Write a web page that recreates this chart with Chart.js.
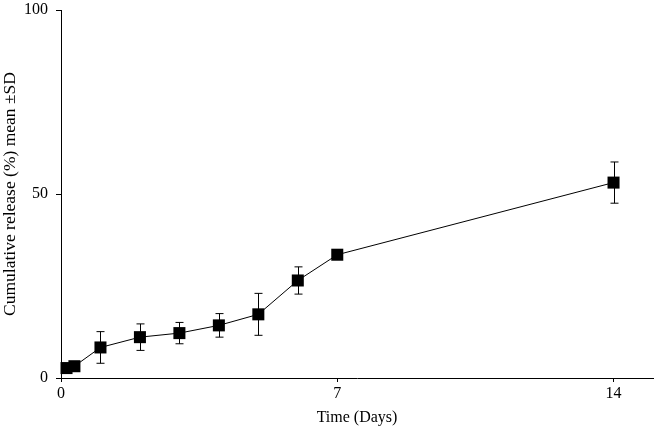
<!DOCTYPE html>
<html lang="en">
<head>
    <meta charset="UTF-8">
    <title>Cumulative release</title>
    <script src="https://cdn.jsdelivr.net/npm/chart.js"></script>
    <style>
        html, body { margin: 0; padding: 0; background: #fff; }
        #wrap { width: 656px; height: 431px; }
    </style>
</head>
<body>
    <div id="wrap"><canvas id="releaseChart"></canvas></div>

    <script>
        // data
        const timeDays = [0.14, 0.34, 1, 2, 3, 4, 5, 6, 7, 14];
        const meanRelease = [2.7, 3.2, 8.3, 11.1, 12.2, 14.3, 17.3, 26.5, 33.5, 53.1];
        const sdRelease = [0.5, 0.6, 4.3, 3.6, 2.9, 3.2, 5.7, 3.7, 0.5, 5.6];
        const xTicks = [0, 7, 14];
        const yTicks = [0, 50, 100];

        const FONT = "'Liberation Serif', 'DejaVu Serif', serif";

        // error bars drawn with the chart's own scales
        const errorBars = {
            id: 'errorBars',
            beforeDatasetsDraw(chart) {
                const ctx = chart.ctx;
                const xs = chart.scales.x, ys = chart.scales.y;
                ctx.save();
                ctx.strokeStyle = '#000';
                ctx.lineWidth = 1;
                timeDays.forEach((t, i) => {
                    const px = Math.round(xs.getPixelForValue(t)) + 0.5;
                    const top = ys.getPixelForValue(meanRelease[i] + sdRelease[i]);
                    const bot = ys.getPixelForValue(meanRelease[i] - sdRelease[i]);
                    ctx.beginPath();
                    ctx.moveTo(px, top); ctx.lineTo(px, bot);
                    ctx.moveTo(px - 4, top); ctx.lineTo(px + 4, top);
                    ctx.moveTo(px - 4, bot); ctx.lineTo(px + 4, bot);
                    ctx.stroke();
                });
                ctx.restore();
            }
        };

        const points = timeDays.map((t, i) => ({ x: t, y: meanRelease[i] }));

        new Chart(document.getElementById('releaseChart'), {
            type: 'scatter',
            data: {
                datasets: [{
                    data: points,
                    showLine: true,
                    borderColor: '#000',
                    borderWidth: 1,
                    pointStyle: 'rect',
                    pointRadius: 8.5,
                    pointBackgroundColor: '#000',
                    pointBorderColor: '#000',
                    pointBorderWidth: 0,
                    clip: false
                }]
            },
            options: {
                responsive: true,
                maintainAspectRatio: false,
                animation: false,
                layout: { autoPadding: false, padding: { top: 0, right: 3, left: 0, bottom: 0 } },
                plugins: { legend: { display: false }, tooltip: { enabled: false } },
                scales: {
                    x: {
                        type: 'linear',
                        min: 0,
                        max: 15,
                        afterBuildTicks: s => { s.ticks = xTicks.map(v => ({ value: v })); },
                        afterFit: s => { s.height = 53; },
                        grid: { display: true, drawOnChartArea: false, tickLength: 4, color: '#000' },
                        border: { color: '#000', width: 1 },
                        ticks: { color: '#000', font: { family: FONT, size: 16 }, padding: 2, maxRotation: 0 },
                        title: { display: true, text: 'Time (Days)', color: '#000', font: { family: FONT, size: 16 }, padding: { top: 0, bottom: 4 } }
                    },
                    y: {
                        min: 0,
                        max: 100,
                        afterBuildTicks: s => { s.ticks = yTicks.map(v => ({ value: v })); },
                        afterFit: s => { s.width = 61; s.paddingTop = 10; s.paddingBottom = 0; },
                        grid: { display: true, drawOnChartArea: false, tickLength: 5, color: '#000' },
                        border: { color: '#000', width: 1 },
                        ticks: { color: '#000', font: { family: FONT, size: 16 }, padding: 8 },
                        title: { display: true, text: 'Cumulative release (%) mean \u00B1SD', color: '#000', font: { family: FONT, size: 17.5 }, padding: { top: 0, bottom: 0 } }
                    }
                }
            },
            plugins: [errorBars]
        });
    </script>
</body>
</html>
